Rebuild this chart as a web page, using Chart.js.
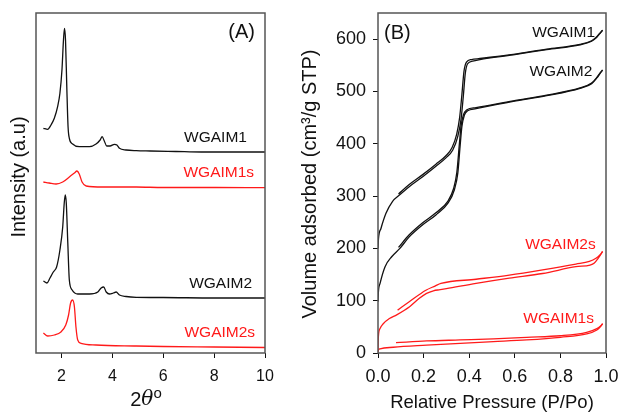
<!DOCTYPE html>
<html>
<head>
<meta charset="utf-8">
<script src="https://cdn.jsdelivr.net/npm/chart.js@4.4.1/dist/chart.umd.min.js"></script>
<style>
  html, body { margin: 0; padding: 0; background: #fff; }
  #wrap { position: relative; width: 622px; height: 412px; overflow: hidden; background: #fff; }
  #xrd { position: absolute; left: 0; top: 0; }
  #iso { position: absolute; left: 290px; top: 0; }
</style>
</head>
<body>
<div id="wrap">
  <canvas id="xrd" width="290" height="412" style="width:290px;height:412px"></canvas>
  <canvas id="iso" width="332" height="412" style="width:332px;height:412px"></canvas>
</div>
<script>
// ---------- (A) small-angle XRD patterns, stacked with offsets ----------
const xrdTicks = [2, 4, 6, 8, 10];

const xrd1X = [1.29, 1.46, 1.59, 1.72, 1.85, 1.94, 2.02, 2.08, 2.12, 2.16, 2.21, 2.26, 2.31, 2.44, 2.70, 3.10, 3.36, 3.52, 3.60, 3.68, 3.78, 3.91, 4.08, 4.18, 4.28, 4.54, 4.94, 5.5, 6.5, 7.5, 8.5, 10];
const xrd1Y = [224.7, 223.7, 228, 234.7, 246.3, 259.7, 283, 313, 324.7, 313, 266.3, 226.3, 214.7, 209, 206.3, 206.3, 209, 213, 216.3, 212.3, 207, 207, 208.7, 208, 204.7, 203, 202.3, 202, 201.5, 201, 201, 201];

const xrd1sX = [1.29, 1.52, 1.79, 2.05, 2.31, 2.51, 2.61, 2.70, 2.81, 2.97, 3.62, 4.94, 6, 8, 10];
const xrd1sY = [171, 170, 169, 171, 176, 180, 182, 179, 171, 167, 166, 166, 165.5, 165.5, 165.3];

const xrd2X = [1.29, 1.43, 1.55, 1.68, 1.81, 1.94, 2.05, 2.11, 2.15, 2.19, 2.25, 2.31, 2.42, 2.64, 3.10, 3.43, 3.56, 3.66, 3.76, 3.89, 4.04, 4.15, 4.28, 4.54, 4.94, 6, 8, 10];
const xrd2Y = [72, 70, 75, 81, 86, 103, 126, 150, 158, 150, 110, 73, 63, 59, 59, 61, 65, 66, 61, 59, 60, 61, 58, 56.5, 55.7, 55.5, 55, 55];

const xrd2sX = [1.29, 1.46, 1.72, 1.98, 2.17, 2.28, 2.36, 2.44, 2.51, 2.57, 2.64, 2.77, 3.36, 4.94, 6, 8, 10];
const xrd2sY = [20, 17, 18, 21, 28, 38, 50, 53, 46, 26, 13, 9.7, 8, 7, 6.5, 6, 5.5];

// ---------- (B) N2 adsorption / desorption isotherms ----------
const isoXTicks = [0, 0.2, 0.4, 0.6, 0.8, 1.0];
const isoYTicks = [0, 100, 200, 300, 400, 500, 600];

const m1AdsP = [0, 0.002, 0.013, 0.035, 0.064, 0.094, 0.137, 0.196, 0.254, 0.298, 0.328, 0.350, 0.364, 0.374, 0.383, 0.393, 0.415, 0.447, 0.593, 0.740, 0.886, 0.937, 0.956, 0.970, 0.985];
const m1AdsV = [200, 218, 238, 267, 290, 302, 318, 337, 357, 373, 388, 414, 446, 490, 535, 553, 558, 561, 570, 580, 589, 596, 602, 609, 617];
const m1DesP = [0.090, 0.137, 0.196, 0.254, 0.298, 0.325, 0.345, 0.358, 0.368, 0.377, 0.388, 0.410, 0.447, 0.593, 0.740, 0.886, 0.937, 0.956, 0.970, 0.985];
const m1DesV = [304, 322, 341, 361, 377, 393, 418, 450, 494, 538, 556, 561, 563, 571, 581, 590, 597, 603, 610, 617];

const m2AdsP = [0, 0.002, 0.009, 0.031, 0.060, 0.096, 0.137, 0.196, 0.254, 0.306, 0.335, 0.350, 0.360, 0.368, 0.379, 0.393, 0.430, 0.593, 0.740, 0.886, 0.937, 0.960, 0.975, 0.985];
const m2AdsV = [98, 118, 133, 165, 184, 200, 222, 245, 264, 286, 312, 344, 395, 433, 455, 463, 467, 481, 492, 506, 515, 526, 535, 541];
const m2DesP = [0.090, 0.137, 0.196, 0.254, 0.306, 0.332, 0.346, 0.356, 0.364, 0.375, 0.390, 0.430, 0.593, 0.740, 0.886, 0.937, 0.960, 0.975, 0.985];
const m2DesV = [202, 226, 249, 268, 290, 315, 346, 395, 433, 456, 465, 469, 482, 493, 507, 516, 527, 536, 541];

const m2sAdsP = [0, 0.001, 0.003, 0.009, 0.023, 0.05, 0.082, 0.14, 0.18, 0.213, 0.243, 0.272, 0.30, 0.43, 0.576, 0.722, 0.868, 0.93, 0.949, 0.964, 0.975, 0.985];
const m2sAdsV = [6, 25, 38, 47, 56, 66, 73, 89, 104, 114, 119, 121, 123, 133, 143, 152, 165, 168, 172, 180, 187, 194];
const m2sDesP = [0.086, 0.137, 0.21, 0.25, 0.276, 0.43, 0.576, 0.722, 0.868, 0.927, 0.956, 0.972, 0.985];
const m2sDesV = [82, 98, 120, 128, 133, 141, 149, 159, 170, 175, 181, 187, 194];

const m1sAdsP = [0, 0.002, 0.009, 0.067, 0.213, 0.36, 0.506, 0.652, 0.80, 0.915, 0.96, 0.975, 0.985];
const m1sAdsV = [2, 6, 8, 11, 15, 18.5, 21.7, 25, 30, 36.4, 44, 50, 56];
const m1sDesP = [0.079, 0.213, 0.36, 0.506, 0.652, 0.80, 0.915, 0.96, 0.975, 0.985];
const m1sDesV = [19.7, 23, 25, 27, 30, 33, 39.6, 46.5, 51, 56];

// ---------- styling ----------
const FONT = '"Liberation Sans", Arial, sans-serif';
const BLACK = '#111111';
const RED = '#ff1a1a';
const FRAME = '#555555';

const pts = (xs, ys) => xs.map((x, i) => ({ x: x, y: ys[i] }));

function line(label, xs, ys, color) {
  return {
    label: label,
    data: pts(xs, ys),
    borderColor: color,
    borderWidth: 1.3,
    pointRadius: 0,
    fill: false,
    cubicInterpolationMode: 'monotone'
  };
}

// box around the plot area
const framePlugin = {
  id: 'frame',
  afterDatasetsDraw(chart, args, opts) {
    const { ctx, chartArea: a } = chart;
    ctx.save();
    ctx.strokeStyle = opts.color;
    ctx.lineWidth = opts.width;
    ctx.strokeRect(a.left, a.top, a.right - a.left, a.bottom - a.top);
    ctx.restore();
  }
};

// series names placed at data coordinates, axis titles and panel letter
const textPlugin = {
  id: 'panelText',
  afterDraw(chart, args, opts) {
    const { ctx, chartArea: a, scales } = chart;
    ctx.save();
    (opts.labels || []).forEach(l => {
      ctx.font = opts.labelFont;
      ctx.fillStyle = l.color;
      ctx.textAlign = 'right';
      ctx.textBaseline = 'middle';
      ctx.fillText(l.text, scales.x.getPixelForValue(l.x), scales.y.getPixelForValue(l.y));
    });
    (opts.titles || []).forEach(t => {
      const pos = t.at(a);
      ctx.save();
      ctx.translate(pos[0], pos[1]);
      ctx.rotate(t.rot || 0);
      ctx.fillStyle = BLACK;
      ctx.textBaseline = 'middle';
      if (t.parts) {
        let total = 0;
        t.parts.forEach(p => { ctx.font = p.font; total += ctx.measureText(p.text).width; });
        let x = -total / 2;
        ctx.textAlign = 'left';
        t.parts.forEach(p => {
          ctx.font = p.font;
          ctx.fillText(p.text, x, p.dy || 0);
          x += ctx.measureText(p.text).width;
        });
      } else {
        ctx.font = t.font;
        ctx.textAlign = t.align || 'center';
        ctx.fillText(t.text, 0, 0);
      }
      ctx.restore();
    });
    ctx.restore();
  }
};

function tickGrid() {
  return { display: true, drawOnChartArea: false, drawTicks: true, tickLength: 5, color: BLACK, lineWidth: 1 };
}

// fixed axis box sizes; edge-label overflow is covered by the layout padding
function fixHeight(h) {
  return s => { s.height = h; s.paddingLeft = 0; s.paddingRight = 0; };
}
function fixWidth(w) {
  return s => { s.width = w; s.paddingTop = 0; s.paddingBottom = 0; };
}

// ---------- chart (A) ----------
new Chart(document.getElementById('xrd'), {
  type: 'line',
  data: {
    datasets: [
      line('WGAIM1', xrd1X, xrd1Y, BLACK),
      line('WGAIM1s', xrd1sX, xrd1sY, RED),
      line('WGAIM2', xrd2X, xrd2Y, BLACK),
      line('WGAIM2s', xrd2sX, xrd2sY, RED)
    ]
  },
  options: {
    responsive: false,
    animation: false,
    events: [],
    layout: { padding: { top: 13, right: 25, left: 0, bottom: 0 } },
    plugins: {
      legend: { display: false },
      tooltip: { enabled: false },
      frame: { color: FRAME, width: 1.5 },
      panelText: {
        labelFont: '15.5px ' + FONT,
        labels: [
          { text: 'WGAIM1', x: 9.29, y: 215, color: BLACK },
          { text: 'WGAIM1s', x: 9.57, y: 180, color: RED },
          { text: 'WGAIM2', x: 9.49, y: 69.7, color: BLACK },
          { text: 'WGAIM2s', x: 9.61, y: 20.7, color: RED }
        ],
        titles: [
          { text: '(A)', font: '20px ' + FONT, align: 'right', at: a => [a.right - 10, a.top + 19] },
          { text: 'Intensity (a.u)', font: '20px ' + FONT, rot: -Math.PI / 2, at: a => [19.5, (a.top + a.bottom) / 2 - 6] },
          { parts: [
              { text: '2', font: '20px ' + FONT },
              { text: '\u03B8', font: 'italic 20px "DejaVu Serif", serif' },
              { text: 'o', font: '15px ' + FONT, dy: -6 }
            ], at: a => [146, 400] }
        ]
      }
    },
    scales: {
      x: {
        type: 'linear', min: 1, max: 10,
        afterBuildTicks: s => { s.ticks = xrdTicks.map(v => ({ value: v })); },
        afterFit: fixHeight(59),
        ticks: { font: { family: FONT, size: 16 }, color: BLACK, padding: 9 },
        grid: tickGrid(),
        border: { display: false }
      },
      y: {
        type: 'linear', min: 0, max: 340,
        afterFit: fixWidth(36),
        ticks: { display: false },
        grid: { display: false },
        border: { display: false }
      }
    }
  },
  plugins: [framePlugin, textPlugin]
});

// ---------- chart (B) ----------
new Chart(document.getElementById('iso'), {
  type: 'line',
  data: {
    datasets: [
      line('WGAIM1 adsorption', m1AdsP, m1AdsV, BLACK),
      line('WGAIM1 desorption', m1DesP, m1DesV, BLACK),
      line('WGAIM2 adsorption', m2AdsP, m2AdsV, BLACK),
      line('WGAIM2 desorption', m2DesP, m2DesV, BLACK),
      line('WGAIM2s adsorption', m2sAdsP, m2sAdsV, RED),
      line('WGAIM2s desorption', m2sDesP, m2sDesV, RED),
      line('WGAIM1s adsorption', m1sAdsP, m1sAdsV, RED),
      line('WGAIM1s desorption', m1sDesP, m1sDesV, RED)
    ]
  },
  options: {
    responsive: false,
    animation: false,
    events: [],
    layout: { padding: { top: 13, right: 16, left: 0, bottom: 0 } },
    plugins: {
      legend: { display: false },
      tooltip: { enabled: false },
      frame: { color: FRAME, width: 1.5 },
      panelText: {
        labelFont: '15.5px ' + FONT,
        labels: [
          { text: 'WGAIM1', x: 0.952, y: 612, color: BLACK },
          { text: 'WGAIM2', x: 0.94, y: 537, color: BLACK },
          { text: 'WGAIM2s', x: 0.955, y: 206.7, color: RED },
          { text: 'WGAIM1s', x: 0.947, y: 66.4, color: RED }
        ],
        titles: [
          { text: '(B)', font: '20px ' + FONT, align: 'left', at: a => [a.left + 6, a.top + 20] },
          { text: 'Volume adsorbed (cm\u00B3/g STP)', font: '20px ' + FONT, rot: -Math.PI / 2, at: a => [20.5, (a.top + a.bottom) / 2 + 1] },
          { text: 'Relative Pressure (P/Po)', font: '18.5px ' + FONT, at: a => [(a.left + a.right) / 2, 403] }
        ]
      }
    },
    scales: {
      x: {
        type: 'linear', min: 0, max: 1,
        afterBuildTicks: s => { s.ticks = isoXTicks.map(v => ({ value: v })); },
        afterFit: fixHeight(59),
        ticks: { font: { family: FONT, size: 18 }, color: BLACK, padding: 8, callback: v => v.toFixed(1) },
        grid: tickGrid(),
        border: { display: false }
      },
      y: {
        type: 'linear', min: 0, max: 650,
        afterBuildTicks: s => { s.ticks = isoYTicks.map(v => ({ value: v })); },
        afterFit: fixWidth(88),
        ticks: { font: { family: FONT, size: 18 }, color: BLACK, padding: 7 },
        grid: tickGrid(),
        border: { display: false }
      }
    }
  },
  plugins: [framePlugin, textPlugin]
});
</script>
</body>
</html>
